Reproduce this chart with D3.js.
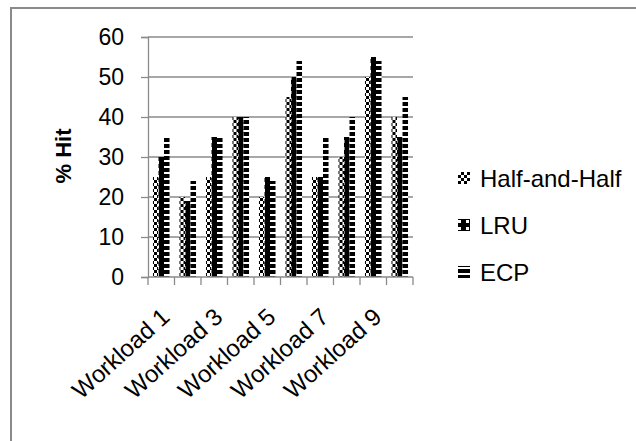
<!DOCTYPE html>
<html>
<head>
<meta charset="utf-8">
<script src="https://cdn.jsdelivr.net/npm/d3@7"></script>
<style>
  body { margin: 0; background: #fff; }
  svg { display: block; font-family: 'Liberation Sans', Arial, sans-serif; }
</style>
</head>
<body>
<svg id="chart" width="636" height="441"></svg>
<script>
'use strict'

const workloads = ['Workload 1', 'Workload 2', 'Workload 3', 'Workload 4', 'Workload 5',
	'Workload 6', 'Workload 7', 'Workload 8', 'Workload 9', 'Workload 10']
const seriesNames = ['Half-and-Half', 'LRU', 'ECP']
const halfAndHalf = [25, 20, 25, 40, 20, 45, 25, 30, 50, 40]
const lru = [30, 19, 35, 40, 25, 50, 25, 35, 55, 35]
const ecp = [35, 24, 35, 40, 24, 54, 35, 40, 54, 45]
const yTicks = [0, 10, 20, 30, 40, 50, 60]

const seriesValues = [halfAndHalf, lru, ecp]
const patternIds = ['pat-hh', 'pat-lru', 'pat-ecp']
const gridColor = '#8a8a8a'

const svg = d3.select('#chart')

// fill patterns, roughly the Excel ones
const defs = svg.append('defs')

const hh = defs.append('pattern')
	.attr('id', 'pat-hh')
	.attr('patternUnits', 'userSpaceOnUse')
	.attr('width', 6)
	.attr('height', 6)
hh.append('rect').attr('width', 6).attr('height', 6).attr('fill', '#fff')
hh.append('rect').attr('width', 3).attr('height', 3).attr('fill', '#000')
hh.append('rect').attr('x', 3).attr('y', 3).attr('width', 3).attr('height', 3).attr('fill', '#000')

const lruPat = defs.append('pattern')
	.attr('id', 'pat-lru')
	.attr('patternUnits', 'userSpaceOnUse')
	.attr('width', 8)
	.attr('height', 7)
lruPat.append('rect').attr('width', 8).attr('height', 7).attr('fill', '#000')
lruPat.append('rect').attr('width', 3).attr('height', 3).attr('fill', '#fff')

const ecpPat = defs.append('pattern')
	.attr('id', 'pat-ecp')
	.attr('patternUnits', 'userSpaceOnUse')
	.attr('width', 8)
	.attr('height', 6)
ecpPat.append('rect').attr('width', 8).attr('height', 6).attr('fill', '#fff')
ecpPat.append('rect').attr('width', 8).attr('height', 4).attr('fill', '#000')

// outer chart frame (runs off the bottom/right of the picture)
svg.append('rect')
	.attr('x', 11)
	.attr('y', 8)
	.attr('width', 700)
	.attr('height', 500)
	.attr('fill', 'none')
	.attr('stroke', gridColor)
	.attr('stroke-width', 2)

const plot = { left: 148, right: 413, top: 37, bottom: 277 }

const x0 = d3.scaleBand()
	.domain(workloads)
	.range([plot.left, plot.right])

const x1 = d3.scaleBand()
	.domain(seriesNames)
	.range([0, x0.bandwidth()])
	.paddingOuter(0.9)

const y = d3.scaleLinear()
	.domain([0, 60])
	.range([plot.bottom, plot.top])

// gridlines
svg.append('g')
	.selectAll('line')
	.data(yTicks.filter((t) => t > 0))
	.enter()
	.append('line')
	.attr('x1', plot.left)
	.attr('x2', plot.right)
	.attr('y1', (d) => y(d))
	.attr('y2', (d) => y(d))
	.attr('stroke', gridColor)
	.attr('stroke-width', 1.3)

// bars
const groups = svg.append('g')
	.selectAll('g')
	.data(workloads)
	.enter()
	.append('g')
	.attr('transform', (d) => `translate(${x0(d)},0)`)

groups.selectAll('rect')
	.data((d, i) => seriesNames.map((name, s) => ({ name, s, value: seriesValues[s][i] })))
	.enter()
	.append('rect')
	.attr('x', (d) => x1(d.name))
	.attr('width', x1.bandwidth())
	.attr('y', (d) => y(d.value))
	.attr('height', (d) => y(0) - y(d.value))
	.attr('fill', (d) => `url(#${patternIds[d.s]})`)

// y axis
const yAxis = svg.append('g')
	.attr('transform', `translate(${plot.left},0)`)
	.call(d3.axisLeft(y).tickValues(yTicks).tickSize(7).tickPadding(17))
yAxis.select('.domain').attr('stroke', gridColor).attr('stroke-width', 1.3)
yAxis.selectAll('.tick line').attr('stroke', gridColor).attr('stroke-width', 1.3)
yAxis.selectAll('.tick text')
	.attr('font-size', 23)
	.attr('font-family', 'Liberation Sans, Arial, sans-serif')
	.attr('fill', '#000')

// x axis: ticks on category boundaries
const xAxis = svg.append('g')
	.attr('transform', `translate(0,${plot.bottom})`)
xAxis.append('line')
	.attr('x1', plot.left)
	.attr('x2', plot.right)
	.attr('stroke', gridColor)
	.attr('stroke-width', 1.3)
xAxis.selectAll('.xtick')
	.data(workloads.concat(['end']))
	.enter()
	.append('line')
	.attr('class', 'xtick')
	.attr('x1', (d) => d === 'end' ? plot.right : x0(d))
	.attr('x2', (d) => d === 'end' ? plot.right : x0(d))
	.attr('y1', 0)
	.attr('y2', 8)
	.attr('stroke', gridColor)
	.attr('stroke-width', 1.3)

// only every other label fits
xAxis.selectAll('.xlabel')
	.data(workloads.filter((d, i) => i % 2 === 0))
	.enter()
	.append('text')
	.attr('class', 'xlabel')
	.attr('transform', (d) => `translate(${x0(d) + x0.bandwidth() / 2 + 10},${42}) rotate(-42)`)
	.attr('text-anchor', 'end')
	.attr('font-size', 24)
	.text((d) => d)

// y axis title
svg.append('text')
	.attr('transform', 'translate(71,156) rotate(-90)')
	.attr('text-anchor', 'middle')
	.attr('font-size', 22)
	.attr('font-weight', 'bold')
	.text('% Hit')

// legend
const legend = svg.append('g')
	.selectAll('g')
	.data(seriesNames)
	.enter()
	.append('g')
	.attr('transform', (d, i) => `translate(458,${187 + i * 47})`)

legend.append('rect')
	.attr('y', -15)
	.attr('width', 12)
	.attr('height', 12)
	.attr('fill', (d, i) => `url(#${patternIds[i]})`)

legend.append('text')
	.attr('x', 22)
	.attr('font-size', 24)
	.text((d) => d)
</script>
</body>
</html>
